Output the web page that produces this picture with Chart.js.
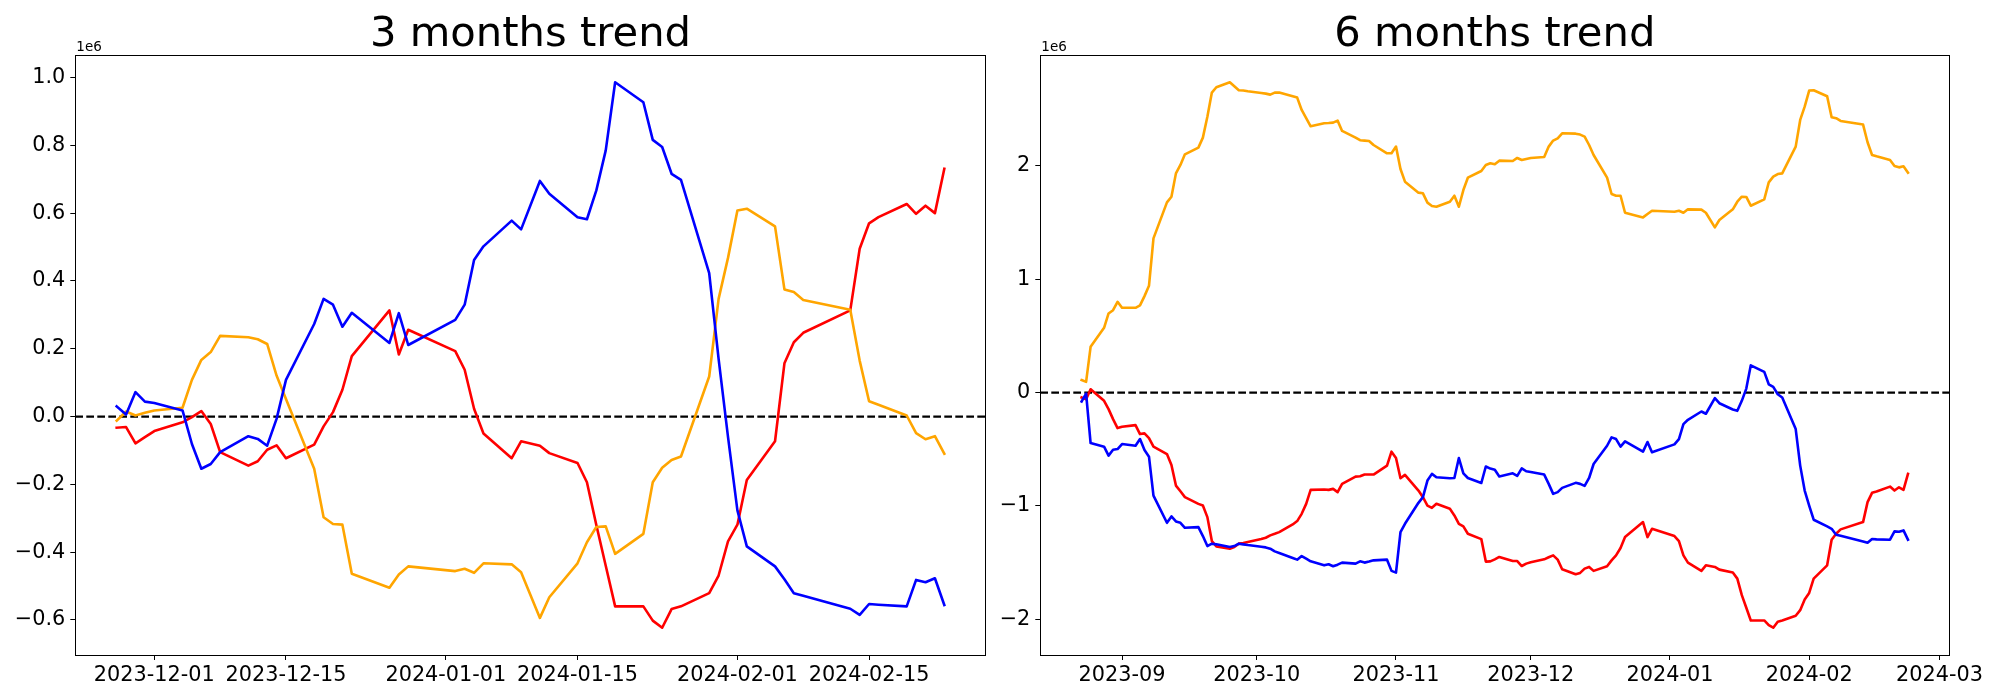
<!DOCTYPE html>
<html>
<head>
<meta charset="utf-8">
<script src="https://cdn.jsdelivr.net/npm/chart.js"></script>
<style>
    body { margin: 0; background: #fff; }
    canvas { position: absolute; top: 0; width: 1000px; height: 700px; }
</style>
</head>
<body>
<canvas id="grafico3m" width="1000" height="700" style="left:0"></canvas>
<canvas id="grafico6m" width="1000" height="700" style="left:1000px"></canvas>
<script>
// datos en millones (el eje muestra 1e6)
const fechas3m = [
    '2023-11-27', '2023-11-28', '2023-11-29', '2023-11-30', '2023-12-01',
    '2023-12-04', '2023-12-05', '2023-12-06', '2023-12-07', '2023-12-08',
    '2023-12-11', '2023-12-12', '2023-12-13', '2023-12-14', '2023-12-15',
    '2023-12-18', '2023-12-19', '2023-12-20', '2023-12-21', '2023-12-22',
    '2023-12-26', '2023-12-27', '2023-12-28',
    '2024-01-02', '2024-01-03', '2024-01-04', '2024-01-05',
    '2024-01-08', '2024-01-09', '2024-01-11', '2024-01-12',
    '2024-01-15', '2024-01-16', '2024-01-17', '2024-01-18', '2024-01-19',
    '2024-01-22', '2024-01-23', '2024-01-24', '2024-01-25', '2024-01-26',
    '2024-01-29', '2024-01-30', '2024-01-31', '2024-02-01', '2024-02-02',
    '2024-02-05', '2024-02-06', '2024-02-07', '2024-02-08',
    '2024-02-13', '2024-02-14', '2024-02-15', '2024-02-16',
    '2024-02-19', '2024-02-20', '2024-02-21', '2024-02-22', '2024-02-23'
];
const azul3m = [
    0.030, 0.006, 0.072, 0.044, 0.040,
    0.018, -0.081, -0.154, -0.140, -0.105,
    -0.058, -0.066, -0.086, -0.007, 0.108,
    0.273, 0.347, 0.330, 0.265, 0.306,
    0.217, 0.305, 0.211,
    0.285, 0.330, 0.462, 0.502,
    0.578, 0.552, 0.695, 0.657,
    0.588, 0.582, 0.667, 0.785, 0.986,
    0.927, 0.816, 0.795, 0.716, 0.698,
    0.423, 0.170, -0.060, -0.277, -0.383,
    -0.442, -0.480, -0.521, -0.529,
    -0.567, -0.585, -0.553, -0.555,
    -0.560, -0.482, -0.489, -0.477, -0.556
];
const rojo3m = [
    -0.033, -0.031, -0.079, -0.061, -0.043,
    -0.017, -0.002, 0.016, -0.022, -0.105,
    -0.145, -0.132, -0.098, -0.085, -0.123,
    -0.083, -0.029, 0.013, 0.079, 0.178,
    0.313, 0.183, 0.256,
    0.193, 0.138, 0.023, -0.050,
    -0.123, -0.073, -0.086, -0.108,
    -0.137, -0.194, -0.320, -0.440, -0.560,
    -0.560, -0.602, -0.623, -0.568, -0.560,
    -0.521, -0.469, -0.368, -0.319, -0.187,
    -0.073, 0.157, 0.219, 0.247,
    0.313, 0.495, 0.570, 0.588,
    0.627, 0.598, 0.622, 0.600, 0.731
];
const naranja3m = [
    -0.012, 0.015, 0.003, 0.011, 0.018,
    0.026, 0.108, 0.167, 0.190, 0.238,
    0.234, 0.228, 0.214, 0.121, 0.052,
    -0.154, -0.297, -0.317, -0.319, -0.464,
    -0.505, -0.466, -0.442,
    -0.456, -0.449, -0.461, -0.433,
    -0.436, -0.459, -0.594, -0.533,
    -0.433, -0.371, -0.326, -0.324, -0.405,
    -0.346, -0.194, -0.151, -0.128, -0.118,
    0.118, 0.347, 0.468, 0.608, 0.613,
    0.561, 0.375, 0.367, 0.344,
    0.315, 0.165, 0.045, 0.035,
    0.003, -0.049, -0.067, -0.058, -0.110
];
const ticksFecha3m = ['2023-12-01', '2023-12-15', '2024-01-01', '2024-01-15', '2024-02-01', '2024-02-15'];
const ticksY3m = [-0.6, -0.4, -0.2, 0.0, 0.2, 0.4, 0.6, 0.8, 1.0];
const etiquetasY3m = ['\u22120.6', '\u22120.4', '\u22120.2', '0.0', '0.2', '0.4', '0.6', '0.8', '1.0'];

const fechas6m = [
    '2023-08-23', '2023-08-24', '2023-08-25', '2023-08-28', '2023-08-29', '2023-08-30', '2023-08-31',
    '2023-09-01', '2023-09-04', '2023-09-05', '2023-09-06', '2023-09-07', '2023-09-08',
    '2023-09-11', '2023-09-12', '2023-09-13', '2023-09-14', '2023-09-15',
    '2023-09-18', '2023-09-19', '2023-09-20', '2023-09-21', '2023-09-22',
    '2023-09-25', '2023-09-26', '2023-09-27', '2023-09-28', '2023-09-29',
    '2023-10-02', '2023-10-03', '2023-10-04', '2023-10-05', '2023-10-06',
    '2023-10-09', '2023-10-10', '2023-10-11', '2023-10-12', '2023-10-13',
    '2023-10-16', '2023-10-17', '2023-10-18', '2023-10-19', '2023-10-20',
    '2023-10-23', '2023-10-24', '2023-10-25', '2023-10-26', '2023-10-27',
    '2023-10-30', '2023-10-31', '2023-11-01', '2023-11-02', '2023-11-03',
    '2023-11-06', '2023-11-07', '2023-11-08', '2023-11-09', '2023-11-10',
    '2023-11-13', '2023-11-14', '2023-11-15', '2023-11-16', '2023-11-17',
    '2023-11-20', '2023-11-21', '2023-11-22', '2023-11-23', '2023-11-24',
    '2023-11-27', '2023-11-28', '2023-11-29', '2023-11-30', '2023-12-01',
    '2023-12-04', '2023-12-05', '2023-12-06', '2023-12-07', '2023-12-08',
    '2023-12-11', '2023-12-12', '2023-12-13', '2023-12-14', '2023-12-15',
    '2023-12-18', '2023-12-19', '2023-12-20', '2023-12-21', '2023-12-22',
    '2023-12-26', '2023-12-27', '2023-12-28',
    '2024-01-02', '2024-01-03', '2024-01-04', '2024-01-05',
    '2024-01-08', '2024-01-09', '2024-01-11', '2024-01-12',
    '2024-01-15', '2024-01-16', '2024-01-17', '2024-01-18', '2024-01-19',
    '2024-01-22', '2024-01-23', '2024-01-24', '2024-01-25', '2024-01-26',
    '2024-01-29', '2024-01-30', '2024-01-31', '2024-02-01', '2024-02-02',
    '2024-02-05', '2024-02-06', '2024-02-07', '2024-02-08',
    '2024-02-13', '2024-02-14', '2024-02-15', '2024-02-16',
    '2024-02-19', '2024-02-20', '2024-02-21', '2024-02-22', '2024-02-23'
];
const azul6m = [
    -0.079, -0.009, -0.445, -0.477, -0.556, -0.504, -0.498,
    -0.454, -0.469, -0.410, -0.507, -0.565, -0.908,
    -1.148, -1.092, -1.136, -1.148, -1.192,
    -1.186, -1.265, -1.353, -1.332, -1.338,
    -1.362, -1.353, -1.332, -1.338, -1.344,
    -1.359, -1.365, -1.376, -1.400, -1.414,
    -1.458, -1.473, -1.441, -1.464, -1.488,
    -1.523, -1.514, -1.531, -1.517, -1.499,
    -1.508, -1.488, -1.499, -1.490, -1.479,
    -1.473, -1.572, -1.587, -1.230, -1.157,
    -0.972, -0.922, -0.776, -0.717, -0.747,
    -0.755, -0.753, -0.577, -0.712, -0.753,
    -0.797, -0.652, -0.670, -0.680, -0.740,
    -0.712, -0.735, -0.668, -0.694, -0.700,
    -0.723, -0.805, -0.893, -0.878, -0.840,
    -0.796, -0.805, -0.823, -0.753, -0.630,
    -0.469, -0.395, -0.410, -0.477, -0.430,
    -0.521, -0.436, -0.527,
    -0.457, -0.410, -0.278, -0.240,
    -0.167, -0.187, -0.050, -0.094,
    -0.149, -0.161, -0.073, 0.035, 0.240,
    0.182, 0.073, 0.050, -0.015, -0.044,
    -0.322, -0.644, -0.864, -0.996, -1.121,
    -1.180, -1.201, -1.253, -1.262,
    -1.312, -1.324, -1.291, -1.294,
    -1.297, -1.224, -1.227, -1.215, -1.297
];
const rojo6m = [
    -0.044, -0.059, 0.029, -0.073, -0.146, -0.234, -0.313,
    -0.302, -0.287, -0.366, -0.360, -0.401, -0.477,
    -0.542, -0.638, -0.820, -0.870, -0.922,
    -0.981, -0.996, -1.098, -1.309, -1.356,
    -1.376, -1.362, -1.332, -1.327, -1.318,
    -1.291, -1.280, -1.259, -1.245, -1.230,
    -1.163, -1.133, -1.069, -0.981, -0.858,
    -0.855, -0.858, -0.849, -0.878, -0.805,
    -0.741, -0.738, -0.723, -0.723, -0.723,
    -0.644, -0.521, -0.577, -0.755, -0.726,
    -0.864, -0.922, -0.996, -1.016, -0.981,
    -1.025, -1.083, -1.157, -1.180, -1.245,
    -1.292, -1.490, -1.488, -1.470, -1.449,
    -1.485, -1.485, -1.529, -1.508, -1.496,
    -1.470, -1.452, -1.435, -1.473, -1.558,
    -1.602, -1.590, -1.552, -1.537, -1.572,
    -1.531, -1.479, -1.435, -1.370, -1.274,
    -1.142, -1.274, -1.201,
    -1.265, -1.309, -1.435, -1.499,
    -1.572, -1.523, -1.537, -1.561,
    -1.587, -1.640, -1.786, -1.897, -2.009,
    -2.009, -2.050, -2.073, -2.020, -2.009,
    -1.968, -1.918, -1.824, -1.766, -1.640,
    -1.523, -1.297, -1.245, -1.206,
    -1.142, -0.966, -0.884, -0.873,
    -0.829, -0.864, -0.835, -0.858, -0.717
];
const naranja6m = [
    0.110, 0.094, 0.403, 0.571, 0.697, 0.726, 0.800,
    0.747, 0.747, 0.768, 0.850, 0.941, 1.359,
    1.676, 1.726, 1.932, 2.006, 2.100,
    2.159, 2.247, 2.432, 2.644, 2.691,
    2.735, 2.700, 2.665, 2.662, 2.656,
    2.641, 2.635, 2.626, 2.644, 2.644,
    2.612, 2.600, 2.491, 2.418, 2.347,
    2.374, 2.376, 2.379, 2.397, 2.306,
    2.247, 2.224, 2.221, 2.218, 2.182,
    2.109, 2.109, 2.168, 1.971, 1.859,
    1.762, 1.756, 1.674, 1.644, 1.638,
    1.682, 1.735, 1.638, 1.785, 1.894,
    1.953, 2.006, 2.021, 2.012, 2.044,
    2.041, 2.068, 2.050, 2.059, 2.068,
    2.076, 2.168, 2.221, 2.241, 2.285,
    2.282, 2.274, 2.256, 2.182, 2.094,
    1.894, 1.750, 1.735, 1.735, 1.585,
    1.544, 1.574, 1.603,
    1.594, 1.603, 1.585, 1.615,
    1.612, 1.585, 1.456, 1.521,
    1.615, 1.682, 1.726, 1.724, 1.647,
    1.703, 1.853, 1.903, 1.926, 1.932,
    2.168, 2.403, 2.520, 2.662, 2.665,
    2.612, 2.426, 2.418, 2.394,
    2.362, 2.206, 2.094, 2.082,
    2.050, 1.997, 1.985, 1.994, 1.938
];
const ticksFecha6m = ['2023-09-01', '2023-10-01', '2023-11-01', '2023-12-01', '2024-01-01', '2024-02-01', '2024-03-01'];
const etiquetasX6m = ['2023-09', '2023-10', '2023-11', '2023-12', '2024-01', '2024-02', '2024-03'];
const ticksY6m = [-2, -1, 0, 1, 2];
const etiquetasY6m = ['\u22122', '\u22121', '0', '1', '2'];

const fuente = 'DejaVu Sans';

function dia(fecha) {
    const [a, m, d] = fecha.split('-').map(Number);
    return Date.UTC(a, m - 1, d) / 86400000;
}

// margen de 5% como matplotlib
function limites(valores) {
    const min = Math.min(...valores);
    const max = Math.max(...valores);
    const margen = (max - min) * 0.05;
    return [min - margen, max + margen];
}

const marco = {
    id: 'marco',
    beforeDatasetsDraw(chart) {
        const ctx = chart.ctx;
        const area = chart.chartArea;
        const y0 = chart.scales.y.getPixelForValue(0);
        ctx.save();
        ctx.strokeStyle = '#000';
        ctx.lineWidth = 2.2;
        ctx.setLineDash([7.7, 3.3]);
        ctx.beginPath();
        ctx.moveTo(area.left, y0);
        ctx.lineTo(area.right, y0);
        ctx.stroke();
        ctx.restore();
    },
    afterDraw(chart) {
        const ctx = chart.ctx;
        const area = chart.chartArea;
        const opts = chart.options.plugins.marco;
        ctx.save();
        ctx.strokeStyle = '#000';
        ctx.lineWidth = 1;
        ctx.strokeRect(Math.round(area.left) + 0.5, Math.round(area.top) + 0.5,
            Math.round(area.right - area.left), Math.round(area.bottom - area.top));
        ctx.fillStyle = '#000';
        ctx.textAlign = 'center';
        ctx.textBaseline = 'alphabetic';
        ctx.font = '41.7px "' + fuente + '"';
        ctx.fillText(opts.titulo, (area.left + area.right) / 2, 46);
        ctx.textAlign = 'left';
        ctx.font = '13.5px "' + fuente + '"';
        ctx.fillText('1e6', area.left + 1, 51);
        ctx.restore();
    }
};

function crearGrafico(id, titulo, fechas, azul, rojo, naranja, ticksFecha, etiquetasX, ticksY, etiquetasY, anchoEjeY, padDerecha) {
    const xs = fechas.map(dia);
    const [xMin, xMax] = limites([xs[0], xs[xs.length - 1]]);
    const [yMin, yMax] = limites([...azul, ...rojo, ...naranja]);
    const puntos = (valores) => valores.map((v, i) => ({ x: xs[i], y: v }));

    const ejeComun = {
        type: 'linear',
        grid: { drawOnChartArea: false, drawTicks: true, tickLength: 5, color: '#000', lineWidth: 1 },
        border: { display: false }
    };

    return new Chart(document.getElementById(id), {
        type: 'line',
        data: {
            datasets: [
                { data: puntos(azul), borderColor: '#0000ff' },
                { data: puntos(naranja), borderColor: '#ffa500' },
                { data: puntos(rojo), borderColor: '#ff0000' }
            ]
        },
        options: {
            responsive: false,
            devicePixelRatio: 1,
            animation: false,
            events: [],
            layout: { autoPadding: false, padding: { left: 0, top: 55, right: padDerecha, bottom: 0 } },
            elements: {
                line: { borderWidth: 2.6, tension: 0, borderJoinStyle: 'round', borderCapStyle: 'square', fill: false },
                point: { radius: 0 }
            },
            scales: {
                x: {
                    ...ejeComun,
                    min: xMin,
                    max: xMax,
                    afterBuildTicks: (scale) => { scale.ticks = ticksFecha.map(f => ({ value: dia(f) })); },
                    afterFit: (scale) => { scale.height = 45; scale.paddingLeft = 0; scale.paddingRight = 0; },
                    ticks: {
                        autoSkip: false, maxRotation: 0, minRotation: 0, padding: 3, color: '#000',
                        font: { family: fuente, size: 20.8 },
                        callback: (v, i) => etiquetasX[i]
                    }
                },
                y: {
                    ...ejeComun,
                    min: yMin,
                    max: yMax,
                    afterBuildTicks: (scale) => { scale.ticks = ticksY.map(v => ({ value: v })); },
                    afterFit: (scale) => { scale.width = anchoEjeY; scale.paddingTop = 0; scale.paddingBottom = 0; },
                    ticks: {
                        padding: 5, color: '#000',
                        font: { family: fuente, size: 20.8 },
                        callback: (v, i) => etiquetasY[i]
                    }
                }
            },
            plugins: {
                legend: { display: false },
                tooltip: { enabled: false },
                title: { display: false },
                marco: { titulo: titulo }
            }
        },
        plugins: [marco]
    });
}

crearGrafico('grafico3m', '3 months trend', fechas3m, azul3m, rojo3m, naranja3m,
    ticksFecha3m, ticksFecha3m, ticksY3m, etiquetasY3m, 75.3, 14.3);
crearGrafico('grafico6m', '6 months trend', fechas6m, azul6m, rojo6m, naranja6m,
    ticksFecha6m, etiquetasX6m, ticksY6m, etiquetasY6m, 40.3, 50.7);
</script>
</body>
</html>
